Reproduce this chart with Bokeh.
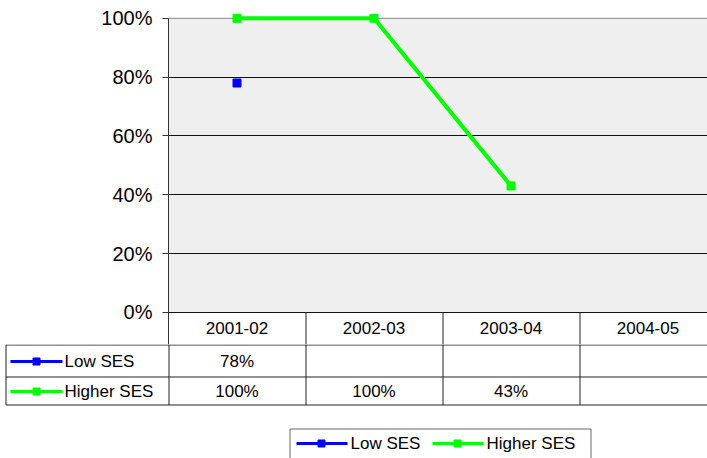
import math
from bokeh.plotting import figure
from bokeh.models import Range1d, FixedTicker, NumeralTickFormatter, BoxAnnotation, Span
from bokeh.embed import file_html
from bokeh.resources import INLINE
from bokeh.core.properties import value

# ---- data ----
categories = ["2001-02", "2002-03", "2003-04", "2004-05"]
low_ses = [0.78, float("nan"), float("nan"), float("nan")]
higher_ses = [1.00, 1.00, 0.43, float("nan")]
series_names = ["Low SES", "Higher SES"]
series_colors = ["#0000FF", "#00FF00"]
y_ticks = [0, 0.2, 0.4, 0.6, 0.8, 1.0]

# ---- layout constants ----
W = 707
LEFT = 168
CAT_W = 137
TOP_H = 344          # chart + header row of the data table
BOT_H = 114          # data rows + legend
FRAME_TOP = 9
PX_PER_UNIT = 294
Y_TOP = 1.03
Y_BOT = Y_TOP - (TOP_H - FRAME_TOP) / PX_PER_UNIT
FONT = "Liberation Sans"
LINE = "#222222"
HALF = 0.5 / CAT_W

xs = [i + 0.5 for i in range(len(categories))]
series_values = [low_ses, higher_ses]

p = figure(width=W, height=TOP_H, output_backend="svg", toolbar_location=None,
           x_range=Range1d(0, (W - LEFT) / CAT_W), y_range=Range1d(Y_BOT, Y_TOP),
           x_axis_location=None, min_border_left=LEFT, min_border_right=0,
           min_border_top=FRAME_TOP, min_border_bottom=0)
p.background_fill_color = "white"
p.border_fill_color = "white"
p.outline_line_color = None
p.add_layout(BoxAnnotation(bottom=0, top=1, fill_color="#EFEFEF", fill_alpha=1,
                           line_color=None, level="image"))

ax = p.yaxis[0]
ax.ticker = FixedTicker(ticks=y_ticks)
ax.formatter = NumeralTickFormatter(format="0%")
ax.bounds = (Y_BOT, 1)
ax.major_label_text_font = FONT
ax.major_label_text_font_size = "20px"
ax.major_label_text_color = "black"
ax.axis_line_color = "#333333"
ax.axis_line_width = 1
ax.major_tick_line_color = "#333333"
ax.major_tick_out = 6
ax.major_tick_in = 0
ax.minor_tick_line_color = None
ax.major_label_standoff = 10

p.xgrid.visible = False
p.ygrid.ticker = FixedTicker(ticks=y_ticks[:-1])
p.ygrid.grid_line_color = "#111111"
p.ygrid.level = "underlay"
p.add_layout(Span(location=1, dimension="width", line_color="#888888", line_width=1, level="underlay"))

for vals, col in zip(series_values, series_colors):
    p.line(xs, vals, line_color=col, line_width=4)
    p.scatter(xs, vals, marker="square", size=8, fill_color=col, line_color=col)

# header row of the data table (inside the chart figure, below 0%)
sep_x = [i + HALF for i in range(1, len(categories))]
p.segment(x0=sep_x, y0=[0] * len(sep_x), x1=sep_x, y1=[Y_BOT] * len(sep_x),
          line_color=LINE, line_width=1)
p.text(x=xs, y=[Y_BOT / 2] * len(categories), text=categories, text_align="center",
       text_baseline="middle", text_font=value(FONT), text_font_size="17px", text_color="black")

# ---- data rows + legend ----
t = figure(width=W, height=BOT_H, output_backend="svg", toolbar_location=None,
           x_range=Range1d(0, W), y_range=Range1d(BOT_H, 0),
           x_axis_location=None, y_axis_location=None,
           min_border_left=0, min_border_right=0, min_border_top=0, min_border_bottom=0)
t.outline_line_color = None
t.xgrid.visible = False
t.ygrid.visible = False
t.background_fill_color = "white"

row_edges = [0.5, 32.5, 60.5]
col_x = [LEFT + CAT_W * (i + 0.5) for i in range(len(categories))]
col_edges = [LEFT + CAT_W * i + 0.5 for i in range(len(categories))]
TABLE_LEFT = 5.5

t.segment(x0=[TABLE_LEFT] * len(row_edges), y0=row_edges, x1=[W] * len(row_edges), y1=row_edges,
          line_color=LINE, line_width=1)
t.segment(x0=[TABLE_LEFT] + col_edges, y0=[0] * (len(categories) + 1), x1=[TABLE_LEFT] + col_edges,
          y1=[row_edges[-1]] * (len(categories) + 1), line_color=LINE, line_width=1)

row_y = [17, 47]
for r, (name, vals, col) in enumerate(zip(series_names, series_values, series_colors)):
    labels = ["" if math.isnan(v) else f"{round(v * 100)}%" for v in vals]
    t.text(x=col_x, y=[row_y[r]] * len(vals), text=labels, text_align="center",
           text_baseline="middle", text_font=value(FONT), text_font_size="17px", text_color="black")
    t.segment(x0=[10], y0=[row_y[r]], x1=[62], y1=[row_y[r]], line_color=col, line_width=3)
    t.scatter(x=[36], y=[row_y[r]], marker="square", size=7, fill_color=col, line_color=col)
    t.text(x=[64], y=[row_y[r]], text=[name], text_align="left", text_baseline="middle",
           text_font=value(FONT), text_font_size="17px", text_color="black")

t.quad(left=[289.5], right=[590.5], top=[84.5], bottom=[130], fill_color=None, line_color="#666666")
leg_y = 99
leg_line_x = [296, 432]
leg_text_x = [350, 486]
for name, col, lx, tx in zip(series_names, series_colors, leg_line_x, leg_text_x):
    t.segment(x0=[lx], y0=[leg_y], x1=[lx + 51], y1=[leg_y], line_color=col, line_width=3)
    t.scatter(x=[lx + 25], y=[leg_y], marker="square", size=7, fill_color=col, line_color=col)
    t.text(x=[tx], y=[leg_y], text=[name], text_align="left", text_baseline="middle",
           text_font=value(FONT), text_font_size="17px", text_color="black")

open("out.html", "w").write(file_html([p, t], INLINE))
